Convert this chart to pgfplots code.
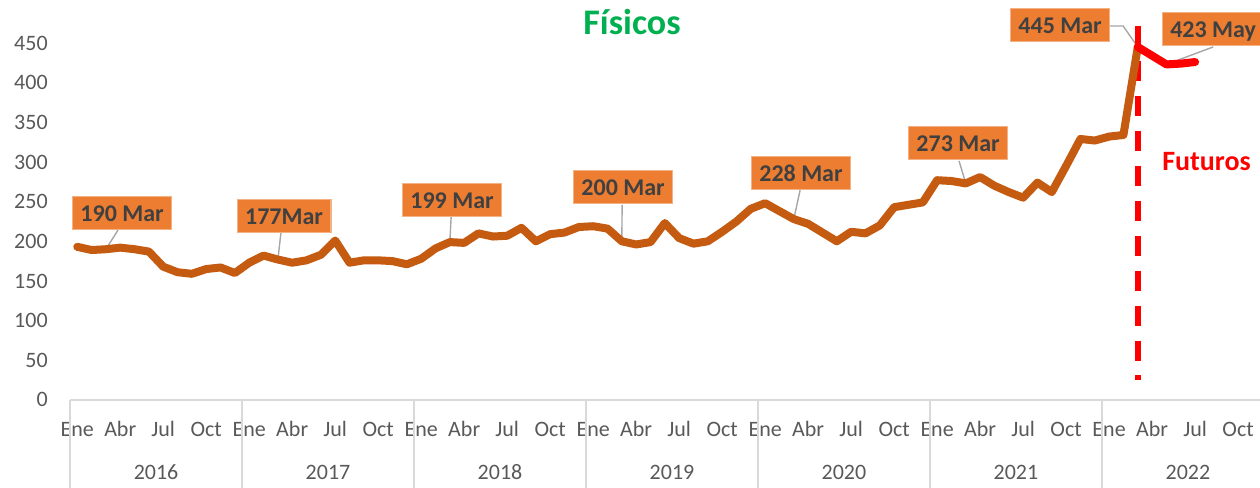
\documentclass[border=0pt]{standalone}
\usepackage{fontspec}
\setmainfont{Carlito}
\usepackage{pgfplots}
\pgfplotsset{compat=1.18}
\definecolor{lineorange}{HTML}{C55A11}
\definecolor{boxorange}{HTML}{ED7D31}
\definecolor{boxedge}{HTML}{F4B183}
\definecolor{txtgray}{HTML}{404040}
\definecolor{tickgray}{HTML}{595959}
\definecolor{sepgray}{HTML}{D9D9D9}
\definecolor{leadgray}{HTML}{A6A6A6}
\definecolor{titlegreen}{HTML}{00B050}
\begin{document}
\begin{tikzpicture}[
  lbl/.style={fill=boxorange, draw=boxedge, line width=0.6pt, text=txtgray,
    font=\fontsize{12}{14}\selectfont\bfseries, inner xsep=4pt, inner ysep=0pt,
    minimum height=16.5pt, text height=8.6pt, text depth=0pt, anchor=center},
  lead/.style={leadgray, line width=0.7pt}
]
\begin{axis}[
  scale only axis, width=602pt, height=178.5pt,
  xmin=-0.5, xmax=83.5, ymin=0, ymax=450,
  clip=false,
  axis line style={draw=none},
  major tick length=0pt,
  ytick={0,50,...,450},
  xtick={0,3,...,81},
  xticklabels={Ene,Abr,Jul,Oct,Ene,Abr,Jul,Oct,Ene,Abr,Jul,Oct,Ene,Abr,Jul,Oct,Ene,Abr,Jul,Oct,Ene,Abr,Jul,Oct,Ene,Abr,Jul,Oct},
  tick label style={font=\fontsize{11}{13}\selectfont, text=tickgray},
  yticklabel style={inner sep=0pt, xshift=-11pt},
  xticklabel style={anchor=base, inner sep=0pt, yshift=-18.5pt},
  /pgf/number format/assume math mode=true,
]
% axis line and year separators
\draw[sepgray, line width=0.75pt] (axis cs:-0.5,0) -- (axis cs:83.5,0);
\draw[sepgray, line width=0.75pt] (axis cs:-0.5,0) -- (axis cs:-0.5,-115);
\draw[sepgray, line width=0.75pt] (axis cs:11.5,0) -- (axis cs:11.5,-115);
\draw[sepgray, line width=0.75pt] (axis cs:23.5,0) -- (axis cs:23.5,-115);
\draw[sepgray, line width=0.75pt] (axis cs:35.5,0) -- (axis cs:35.5,-115);
\draw[sepgray, line width=0.75pt] (axis cs:47.5,0) -- (axis cs:47.5,-115);
\draw[sepgray, line width=0.75pt] (axis cs:59.5,0) -- (axis cs:59.5,-115);
\draw[sepgray, line width=0.75pt] (axis cs:71.5,0) -- (axis cs:71.5,-115);
\draw[sepgray, line width=0.75pt] (axis cs:83.5,0) -- (axis cs:83.5,-115);
% year labels
\node[anchor=base, inner sep=0pt, font=\fontsize{11}{13}\selectfont, text=tickgray, yshift=-40pt] at (axis cs:5.5,0) {2016};
\node[anchor=base, inner sep=0pt, font=\fontsize{11}{13}\selectfont, text=tickgray, yshift=-40pt] at (axis cs:17.5,0) {2017};
\node[anchor=base, inner sep=0pt, font=\fontsize{11}{13}\selectfont, text=tickgray, yshift=-40pt] at (axis cs:29.5,0) {2018};
\node[anchor=base, inner sep=0pt, font=\fontsize{11}{13}\selectfont, text=tickgray, yshift=-40pt] at (axis cs:41.5,0) {2019};
\node[anchor=base, inner sep=0pt, font=\fontsize{11}{13}\selectfont, text=tickgray, yshift=-40pt] at (axis cs:53.5,0) {2020};
\node[anchor=base, inner sep=0pt, font=\fontsize{11}{13}\selectfont, text=tickgray, yshift=-40pt] at (axis cs:65.5,0) {2021};
\node[anchor=base, inner sep=0pt, font=\fontsize{11}{13}\selectfont, text=tickgray, yshift=-40pt] at (axis cs:77.5,0) {2022};
% leaders
\draw[lead] (axis cs:2.85,214.3) -- (axis cs:2,190);
\draw[lead] (axis cs:14.22,211.8) -- (axis cs:14,177);
\draw[lead] (axis cs:26.09,230.7) -- (axis cs:26,199);
\draw[lead] (axis cs:38.02,245.8) -- (axis cs:38,200);
\draw[lead] (axis cs:50.44,264.7) -- (axis cs:50,228);
\draw[lead] (axis cs:61.53,301.3) -- (axis cs:62,273);
\draw[lead] (axis cs:72.07,471.4) -- (axis cs:72.98,471.4) -- (axis cs:74,445);
\draw[lead] (axis cs:79.26,445) -- (axis cs:76,423);
% futures divider
\draw[red, line width=3pt, dash pattern=on 10pt off 7.5pt] (axis cs:74,472) -- (axis cs:74,25);
% series
\addplot[lineorange, line width=4pt, line join=round, line cap=round, mark=none] coordinates {
(0,193)(1,189)(2,190)(3,192)(4,190)(5,187)(6,168)(7,161)(8,159)(9,165)(10,167)(11,160)
(12,173)(13,182)(14,177)(15,173)(16,176)(17,183)(18,201)(19,173)(20,176)(21,176)(22,175)(23,171)
(24,178)(25,191)(26,199)(27,198)(28,210)(29,206)(30,207)(31,217)(32,200)(33,209)(34,211)(35,218)
(36,219)(37,216)(38,200)(39,196)(40,199)(41,223)(42,204)(43,197)(44,200)(45,212)(46,225)(47,241)
(48,248)(49,238)(50,228)(51,222)(52,211)(53,200)(54,212)(55,210)(56,220)(57,243)(58,246)(59,249)
(60,277)(61,276)(62,273)(63,281)(64,270)(65,262)(66,255)(67,274)(68,262)(69,295)(70,329)(71,327)
(72,332)(73,334)(74,445)
};
\addplot[red, line width=4pt, line join=round, line cap=round, mark=none] coordinates {
(74,445)(75,434)(76,423)(77,424)(78,426)
};
% data labels
\node[lbl] at (axis cs:3.13,235.7) {190 Mar};
\node[lbl] at (axis cs:14.43,231.9) {177Mar};
\node[lbl] at (axis cs:26.15,252.1) {199 Mar};
\node[lbl] at (axis cs:38.09,268.5) {200 Mar};
\node[lbl] at (axis cs:50.5,286.1) {228 Mar};
\node[lbl] at (axis cs:61.46,324) {273 Mar};
\node[lbl] at (axis cs:68.58,472.7) {445 Mar};
\node[lbl] at (axis cs:79.26,467.7) {423 May};
% title and annotation
\node[font=\fontsize{18}{20}\selectfont\bfseries, text=titlegreen] at (axis cs:38.71,476.5) {Físicos};
\node[font=\fontsize{14}{16}\selectfont\bfseries, text=red] at (axis cs:78.8,300) {Futuros};
% bounding box corners
\coordinate (bbA) at (axis cs:-5.39,-110.9);
\coordinate (bbB) at (axis cs:82.53,504.2);
\end{axis}
\pgfresetboundingbox
\path[use as bounding box] (bbA) rectangle (bbB);
\end{tikzpicture}
\end{document}
